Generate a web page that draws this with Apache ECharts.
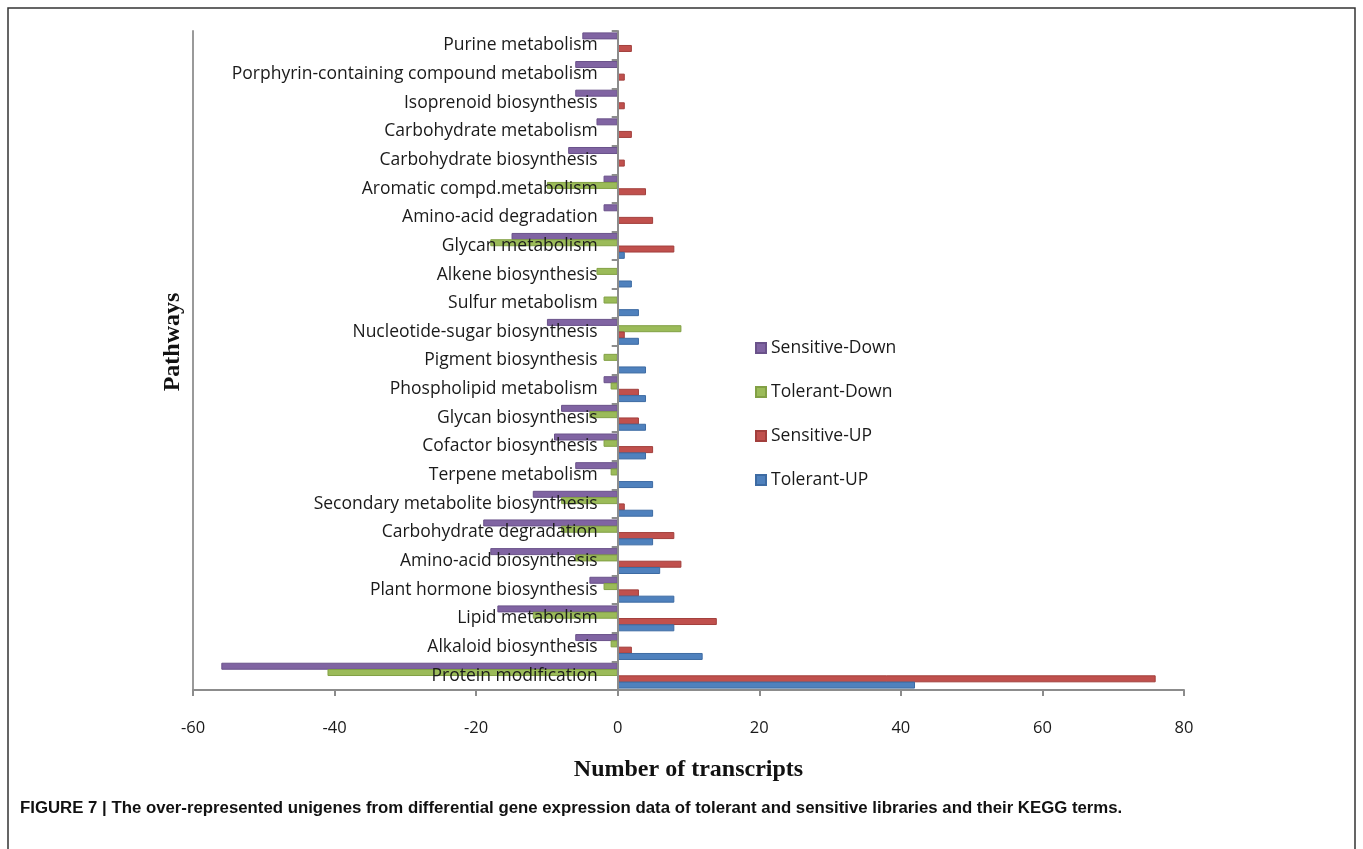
<!DOCTYPE html>
<html>
<head>
<meta charset="utf-8">
<script src="https://cdn.jsdelivr.net/npm/echarts@6/dist/echarts.min.js"></script>
<style>
  html, body { margin: 0; padding: 0; background: #fff; }
  #chart { width: 1363px; height: 849px; }
</style>
</head>
<body>
<div id="chart"></div>
<script>
// KEGG pathways, listed from the bottom of the chart to the top
const pathways = [
  'Protein modification',
  'Alkaloid biosynthesis',
  'Lipid metabolism',
  'Plant hormone biosynthesis',
  'Amino-acid biosynthesis',
  'Carbohydrate degradation',
  'Secondary metabolite biosynthesis',
  'Terpene metabolism',
  'Cofactor biosynthesis',
  'Glycan biosynthesis',
  'Phospholipid metabolism',
  'Pigment biosynthesis',
  'Nucleotide-sugar biosynthesis',
  'Sulfur metabolism',
  'Alkene biosynthesis',
  'Glycan metabolism',
  'Amino-acid degradation',
  'Aromatic compd.metabolism',
  'Carbohydrate biosynthesis',
  'Carbohydrate metabolism',
  'Isoprenoid biosynthesis',
  'Porphyrin-containing compound metabolism',
  'Purine metabolism'
];

// Number of transcripts per pathway (down-regulated counts are negative)
const sensitiveDown = [-56, -6, -17, -4, -18, -19, -12, -6, -9, -8, -2, 0, -10, 0, 0, -15, -2, -2, -7, -3, -6, -6, -5];
const tolerantDown  = [-41, -1, -12, -2, -6, -8, -8, -1, -2, -4, -1, -2, 9, -2, -3, -18, 0, -10, 0, 0, 0, 0, 0];
const sensitiveUp   = [76, 2, 14, 3, 9, 8, 1, 0, 5, 3, 3, 0, 1, 0, 0, 8, 5, 4, 1, 2, 1, 1, 2];
const tolerantUp    = [42, 12, 8, 8, 6, 5, 5, 5, 4, 4, 4, 4, 3, 3, 2, 1, 0, 0, 0, 0, 0, 0, 0];

const seriesNames = ['Sensitive-Down', 'Tolerant-Down', 'Sensitive-UP', 'Tolerant-UP'];
const xTicks = { min: -60, max: 80, interval: 20 };

const palette = {
  'Sensitive-Down': ['#8064A2', '#6a528a'],
  'Tolerant-Down':  ['#9BBB59', '#82a045'],
  'Sensitive-UP':   ['#C0504D', '#a23f3c'],
  'Tolerant-UP':    ['#4F81BD', '#3d6ba3']
};

const values = [sensitiveDown, tolerantDown, sensitiveUp, tolerantUp];

// plot area
const gridBox = { left: 193, right: 179, top: 31, bottom: 159 };
const plotWidth = 1363 - gridBox.left - gridBox.right;
// the pathway labels sit against the zero line, so shift that axis from the left edge to x = 0
const zeroShift = (0 - xTicks.min) / (xTicks.max - xTicks.min) * plotWidth;

const chart = echarts.init(document.getElementById('chart'), null, { renderer: 'canvas' });

const labelFont = '"Open Sans", "Noto Sans", sans-serif';
const serifFont = '"Liberation Serif", "DejaVu Serif", serif';

chart.setOption({
  animation: false,
  backgroundColor: '#ffffff',
  grid: Object.assign({ containLabel: false, outerBoundsMode: 'none' }, gridBox),
  legend: {
    orient: 'vertical',
    left: 750,
    top: 334,
    itemWidth: 10,
    itemHeight: 10,
    itemGap: 26,
    icon: 'rect',
    data: seriesNames,
    textStyle: { fontFamily: labelFont, fontSize: 17.5, color: '#1a1a1a' }
  },
  xAxis: {
    type: 'value',
    min: xTicks.min,
    max: xTicks.max,
    interval: xTicks.interval,
    splitLine: { show: false },
    axisLine: { show: true, onZero: false, lineStyle: { color: '#8c8c8c', width: 2 } },
    axisTick: { show: true, length: 6, lineStyle: { color: '#8c8c8c', width: 2 } },
    axisLabel: { fontFamily: labelFont, fontSize: 16.5, color: '#1a1a1a', margin: 30 },
    name: 'Number of transcripts',
    nameLocation: 'middle',
    nameGap: 68,
    nameTextStyle: { fontFamily: serifFont, fontWeight: 'bold', fontSize: 24, color: '#111' }
  },
  yAxis: [
    {
      type: 'category',
      data: pathways,
      z: 5,
      position: 'left',
      offset: -zeroShift,
      axisLine: { show: true, onZero: false, lineStyle: { color: '#8c8c8c', width: 2 } },
      axisTick: { show: true, length: 6, lineStyle: { color: '#8c8c8c', width: 2 } },
      axisLabel: { fontFamily: labelFont, fontSize: 17.5, color: '#1a1a1a', margin: 20, padding: [7, 0, 0, 0] }
    },
    {
      type: 'category',
      data: pathways,
      position: 'left',
      axisLine: { show: true, onZero: false, lineStyle: { color: '#9a9a9a', width: 2 } },
      axisTick: { show: false },
      axisLabel: { show: false }
    }
  ],
  series: seriesNames.map((name, i) => ({
    name: name,
    type: 'bar',
    yAxisIndex: 0,
    data: values[i],
    barWidth: 7,
    barGap: '-10%',
    itemStyle: { color: palette[name][0], borderColor: palette[name][1], borderWidth: 1 }
  })),
  graphic: [
    {
      type: 'rect',
      shape: { x: 8, y: 8, width: 1347, height: 860 },
      style: { fill: 'none', stroke: '#333', lineWidth: 1.5 },
      silent: true
    },
    {
      type: 'text',
      x: 173,
      y: 342,
      rotation: Math.PI / 2,
      style: {
        text: 'Pathways',
        font: 'bold 24px ' + serifFont,
        fill: '#111',
        align: 'center',
        verticalAlign: 'middle'
      }
    },
    {
      type: 'text',
      x: 20,
      y: 808,
      style: {
        text: 'FIGURE 7 | The over-represented unigenes from differential gene expression data of tolerant and sensitive libraries and their KEGG terms.',
        font: 'bold 16.8px "Liberation Sans", Arial, sans-serif',
        fill: '#111',
        align: 'left',
        verticalAlign: 'middle'
      }
    }
  ]
});
</script>
</body>
</html>
